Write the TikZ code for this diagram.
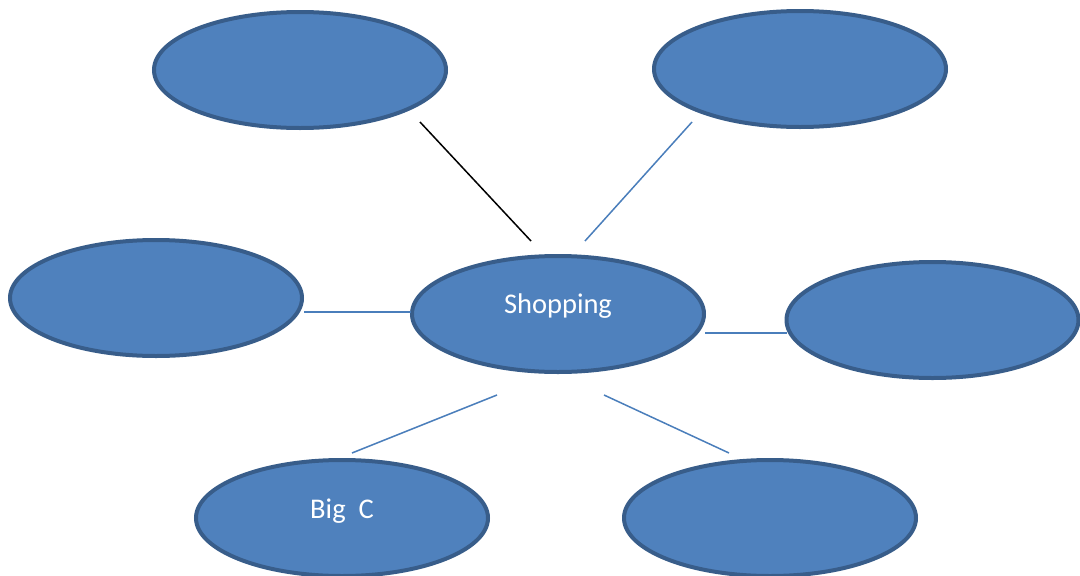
\documentclass[tikz,border=0pt]{standalone}
\usepackage{fontspec}
\setmainfont{Carlito}
\usetikzlibrary{shapes.geometric}
\definecolor{bubfill}{HTML}{4F81BD}
\definecolor{bubedge}{HTML}{385D8A}
\definecolor{linkblue}{HTML}{4A7EBB}
\begin{document}
\begin{tikzpicture}[x=1pt,y=-1pt,
  bubble/.style={ellipse, draw=bubedge, fill=bubfill, line width=4pt,
    minimum width=292pt, minimum height=116pt, inner sep=0pt,
    text=white, font=\fontsize{28.5}{34}\selectfont},
  label/.style={text=white, font=\fontsize{28.5}{34}\selectfont},
  link/.style={draw=linkblue, line width=1.5pt},
  blink/.style={draw=black, line width=1.5pt}]
\useasboundingbox (0,0) rectangle (1080,576);
\node[bubble] (tl) at (300,70) {};
\node[bubble] (tr) at (800,69) {};
\node[bubble] (l) at (156,298) {};
\node[bubble] (c) at (558,314) {};
\node[bubble] (r) at (932.5,320) {};
\node[bubble] (bl) at (342,518) {};
\node[bubble] (br) at (770,518) {};
\node[label] (ctext) at (558,306.5) {Shopping};
\node[label] (bltext) at (342,511.5) {Big\ \ C};
\coordinate (a1) at (420,122); \coordinate (a2) at (531,241);
\coordinate (b1) at (692,122); \coordinate (b2) at (585,241);
\coordinate (c1) at (304,312); \coordinate (c2) at (411,312);
\coordinate (d1) at (705,333); \coordinate (d2) at (787,333);
\coordinate (e1) at (497,395); \coordinate (e2) at (352,453);
\coordinate (f1) at (604,395); \coordinate (f2) at (729,453);
\draw[blink] (a1) -- (a2);
\draw[link] (b1) -- (b2);
\draw[link] (c1) -- (c2);
\draw[link] (d1) -- (d2);
\draw[link] (e1) -- (e2);
\draw[link] (f1) -- (f2);
\end{tikzpicture}
\end{document}
